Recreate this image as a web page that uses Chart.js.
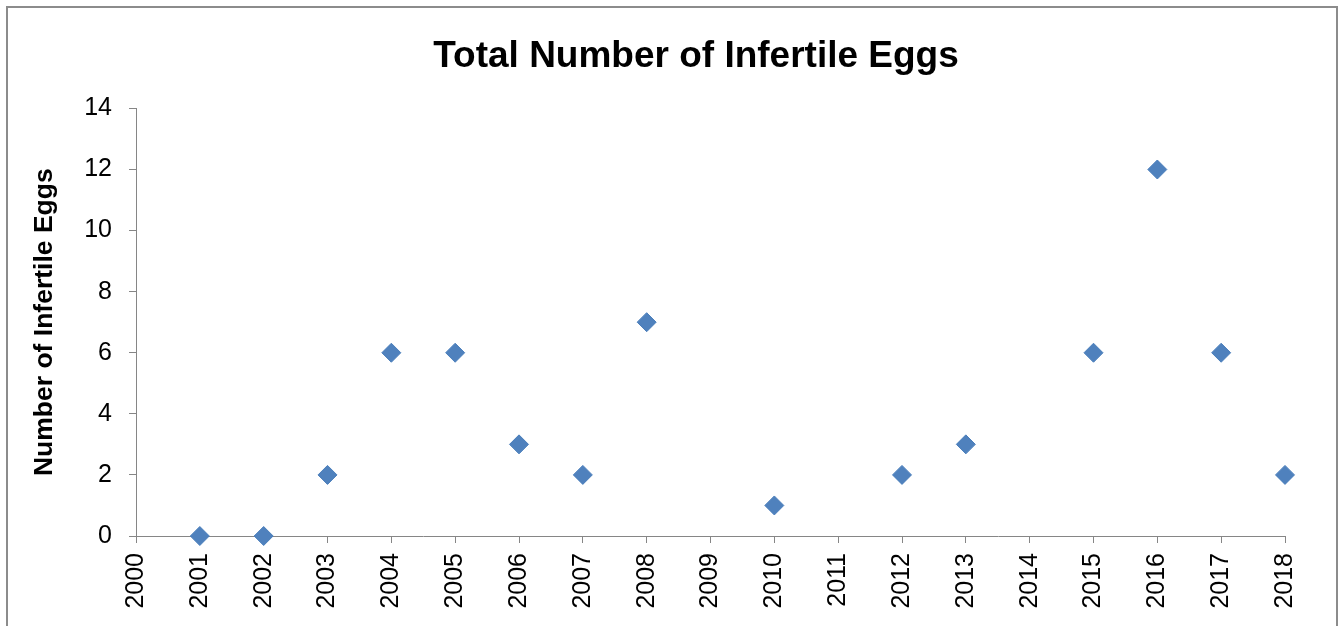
<!DOCTYPE html>
<html>
<head>
<meta charset="utf-8">
<script src="https://cdn.jsdelivr.net/npm/chart.js@4.4.0/dist/chart.umd.min.js"></script>
<style>
  html, body { margin: 0; padding: 0; background: #fff; overflow: hidden; }
  #marco { position: absolute; left: 6px; top: 6px; width: 1332px; height: 700px; border: 2px solid #8c8c8c; box-sizing: border-box; }
  #caja { position: absolute; left: 0; top: 0; width: 1343px; height: 626px; }
</style>
</head>
<body>
<div id="marco"></div>
<div id="caja"><canvas id="grafico" width="1343" height="626"></canvas></div>
<script>
// Datos del gráfico
const anios = [2001, 2002, 2003, 2004, 2005, 2006, 2007, 2008, 2010, 2012, 2013, 2015, 2016, 2017, 2018];
const huevos = [0, 0, 2, 6, 6, 3, 2, 7, 1, 2, 3, 6, 12, 6, 2];
const titulo = "Total Number of Infertile Eggs";
const tituloY = "Number of Infertile Eggs";
const ejeX = { min: 2000, max: 2018, paso: 1 };
const ejeY = { min: 0, max: 14, paso: 2 };

const gris = "#868686";
Chart.defaults.color = "#000";
Chart.defaults.font.family = "'Liberation Sans', Arial, sans-serif";

const puntos = anios.map((a, i) => ({ x: a, y: huevos[i] }));

// Centrar el título sobre todo el recuadro y no solo sobre el área del gráfico
const moverTitulo = {
    id: "moverTitulo",
    afterLayout(chart) {
        const t = chart.titleBlock;
        if (t) {
            t.left = 49;
            t.right = 1343;
            t.width = t.right - t.left;
        }
    },
};

const ctx = document.getElementById("grafico").getContext("2d");
new Chart(ctx, {
    type: "scatter",
    data: {
        datasets: [{
            data: puntos,
            pointStyle: "rectRot",
            pointRadius: 9.5,
            pointHoverRadius: 9.5,
            backgroundColor: "#4F81BD",
            borderColor: "#4A7EBB",
            borderWidth: 1,
            clip: false,
        }],
    },
    options: {
        responsive: false,
        animation: false,
        layout: { padding: { left: 0, right: 58, top: 0, bottom: 0 } },
        plugins: {
            legend: { display: false },
            tooltip: { enabled: false },
            title: {
                display: true,
                text: titulo,
                font: { size: 37, weight: "bold", lineHeight: 1.2 },
                padding: { top: 35, bottom: 29 },
                color: "#000",
            },
        },
        scales: {
            x: {
                type: "linear",
                min: ejeX.min,
                max: ejeX.max,
                afterFit: (s) => { s.height = 90; },
                grid: { display: true, drawOnChartArea: false, drawTicks: true, tickLength: 7, color: gris },
                border: { display: true, color: gris, width: 1 },
                ticks: {
                    stepSize: ejeX.paso,
                    autoSkip: false,
                    minRotation: 90,
                    maxRotation: 90,
                    padding: 10,
                    font: { size: 25 },
                    callback: (v) => String(v),
                },
            },
            y: {
                min: ejeY.min,
                max: ejeY.max,
                afterFit: (s) => { s.width = 136; },
                grid: { display: true, drawOnChartArea: false, drawTicks: true, tickLength: 7, color: gris },
                border: { display: true, color: gris, width: 1 },
                ticks: { stepSize: ejeY.paso, padding: 17, font: { size: 25 } },
                title: {
                    display: true,
                    text: tituloY,
                    font: { size: 26.5, weight: "bold", lineHeight: 1.2 },
                    padding: { top: 29, bottom: 0 },
                },
            },
        },
    },
    plugins: [moverTitulo],
});
</script>
</body>
</html>
